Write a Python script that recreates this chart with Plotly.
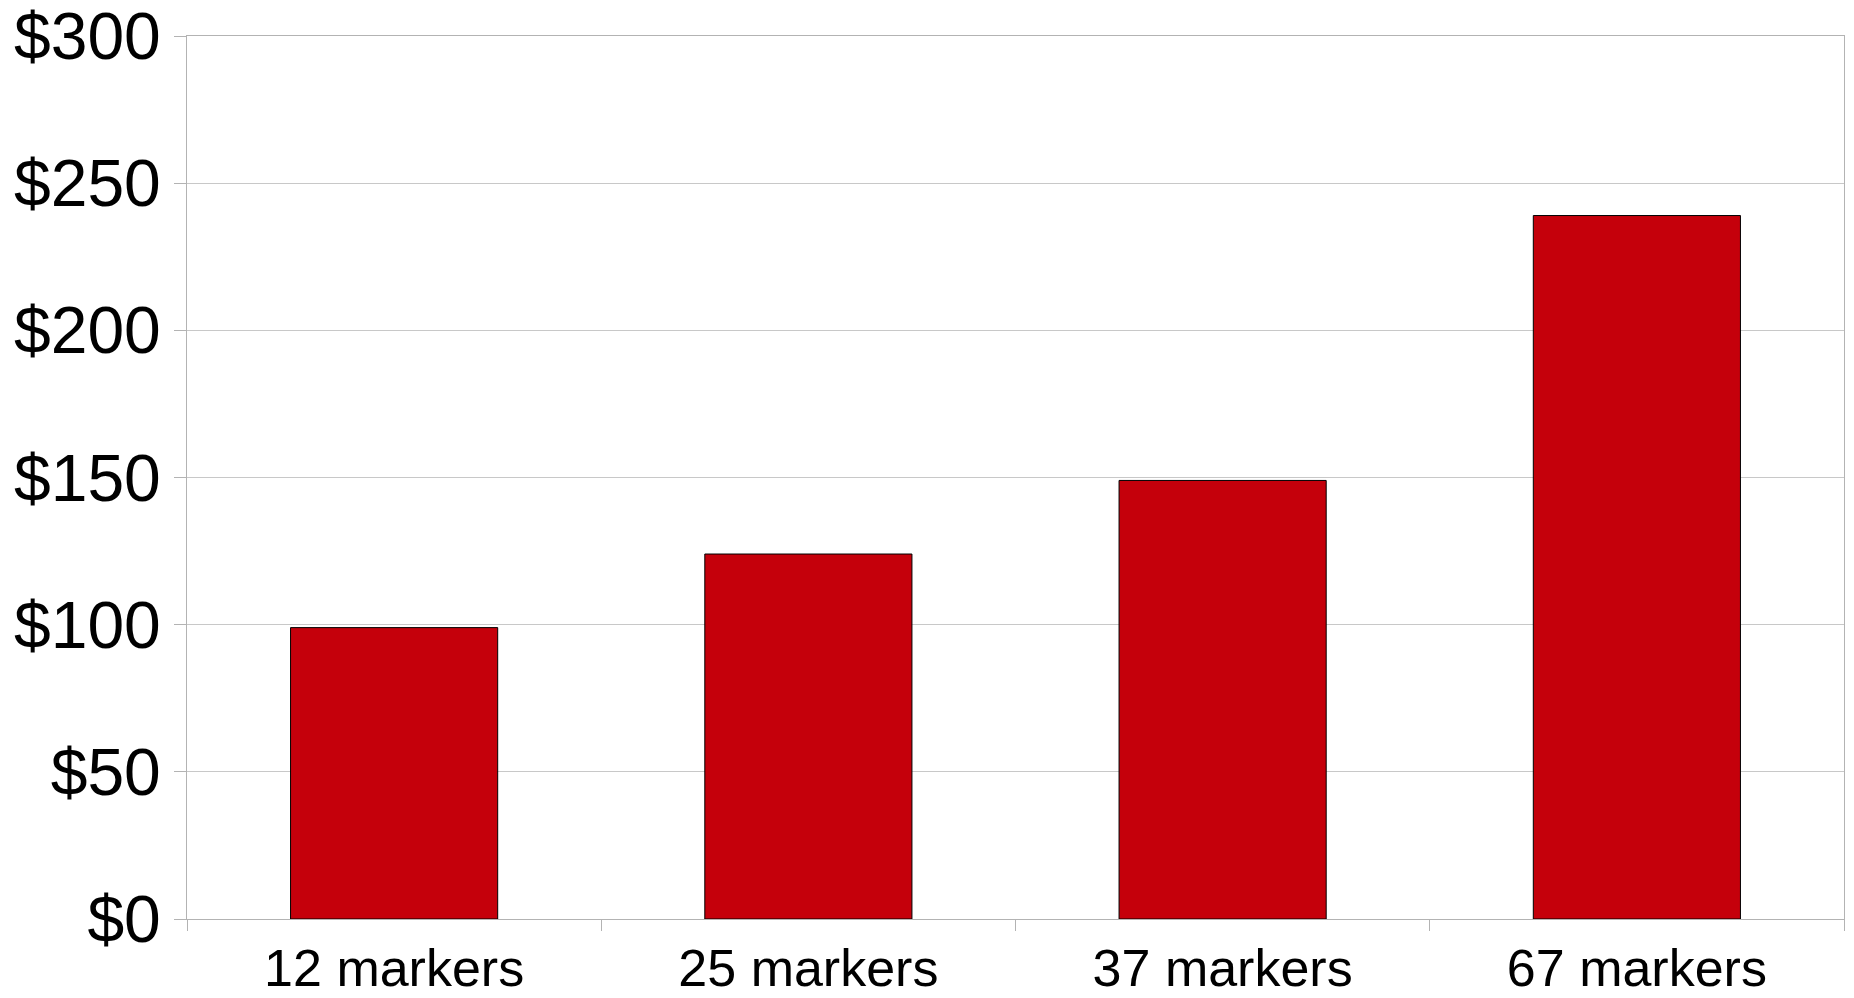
import plotly.graph_objects as go

categories = ["12 markers", "25 markers", "37 markers", "67 markers"]
prices = [99, 124, 149, 239]
y_ticks = [0, 50, 100, 150, 200, 250, 300]
y_tick_text = ["$0", "$50", "$100", "$150", "$200", "$250", "$300"]

fig = go.Figure(
    go.Bar(
        x=categories,
        y=prices,
        marker=dict(color="#C5000B", line=dict(color="#000000", width=1)),
        width=0.5,
    )
)

axis_col = "#b3b3b3"
fig.update_layout(
    width=1854,
    height=998,
    margin=dict(l=187, r=10, t=36, b=79, autoexpand=False),
    paper_bgcolor="white",
    plot_bgcolor="white",
    showlegend=False,
    font=dict(family="Liberation Sans, Arial, sans-serif", color="#000000"),
    xaxis=dict(
        showgrid=False,
        showline=True,
        mirror=True,
        linecolor=axis_col,
        linewidth=1,
        ticks="outside",
        tickson="boundaries",
        ticklen=11,
        tickcolor=axis_col,
        tickfont=dict(size=52),
        ticklabelstandoff=4,
        ticklabeloverflow="allow",
        automargin=False,
    ),
    yaxis=dict(
        range=[0, 300],
        tickvals=y_ticks,
        ticktext=y_tick_text,
        showgrid=True,
        gridcolor="#c8c8c8",
        gridwidth=1,
        showline=True,
        mirror=True,
        linecolor=axis_col,
        linewidth=1,
        ticks="outside",
        ticklen=12,
        tickcolor=axis_col,
        tickfont=dict(size=66),
        ticklabeloverflow="allow",
        zeroline=False,
        automargin=False,
    ),
)

fig.write_html(
    "out.html",
    config={"displayModeBar": False},
    post_script="document.body.style.margin='0';document.body.style.overflow='hidden';",
)
